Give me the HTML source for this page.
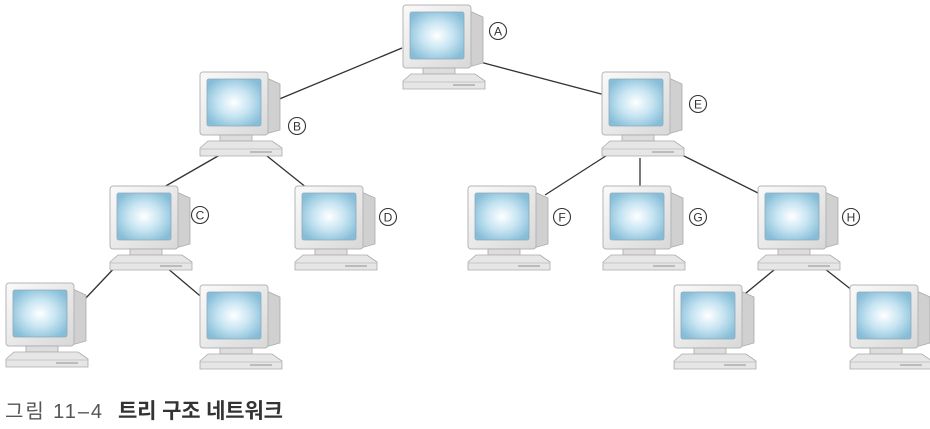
<!DOCTYPE html>
<html><head><meta charset="utf-8"><style>
body{margin:0;background:#fff;width:930px;height:424px;overflow:hidden}
text{font-family:"Liberation Sans","Noto Sans CJK KR",sans-serif}
</style></head><body>
<svg width="930" height="424" viewBox="0 0 930 424" xmlns="http://www.w3.org/2000/svg">
<defs>
<radialGradient id="scr" cx="0.5" cy="0.5" r="0.6">
<stop offset="0" stop-color="#ffffff"/><stop offset="0.5" stop-color="#c6e4f2"/><stop offset="1" stop-color="#86bdd8"/>
</radialGradient>
<linearGradient id="frm" x1="0" y1="0" x2="1" y2="1">
<stop offset="0" stop-color="#fafafa"/><stop offset="1" stop-color="#d8d8d8"/>
</linearGradient>
<g id="pc">
<polygon points="60,3 80,12 80,58 62,63" fill="#d0d0d0" stroke="#aaa" stroke-width="0.8"/>
<rect x="0" y="0" width="68" height="63" rx="3" fill="url(#frm)" stroke="#b5b5b5" stroke-width="1"/>
<rect x="7" y="7" width="54" height="47" rx="2" fill="url(#scr)" stroke="#8fa9b8" stroke-width="0.8"/>
<rect x="20" y="63" width="32" height="6" fill="#ddd" stroke="#aaa" stroke-width="0.8"/>
<polygon points="8,69 72,69 82,76 82,84 0,84 0,76" fill="#e6e6e6" stroke="#aaa" stroke-width="0.8"/>
<line x1="0" y1="77" x2="82" y2="77" stroke="#bbb" stroke-width="0.8"/>
<rect x="50" y="79" width="22" height="2" fill="#bbb"/>
</g>
</defs>
<g stroke="#333" stroke-width="1.3">
<line x1="402" y1="48" x2="277" y2="100"/>
<line x1="480" y1="62" x2="605" y2="95"/>
<line x1="225" y1="152" x2="150" y2="195"/>
<line x1="262" y1="152" x2="312" y2="192"/>
<line x1="120" y1="262" x2="84" y2="300"/>
<line x1="160" y1="262" x2="205" y2="300"/>
<line x1="612" y1="152" x2="545" y2="195"/>
<line x1="640" y1="158" x2="640" y2="188"/>
<line x1="668" y1="148" x2="772" y2="200"/>
<line x1="780" y1="265" x2="740" y2="298"/>
<line x1="820" y1="265" x2="862" y2="298"/>
</g>
<use href="#pc" x="403" y="5"/>
<use href="#pc" x="200" y="72"/>
<use href="#pc" x="602" y="72"/>
<use href="#pc" x="110" y="186"/>
<use href="#pc" x="295" y="186"/>
<use href="#pc" x="468" y="186"/>
<use href="#pc" x="603" y="186"/>
<use href="#pc" x="758" y="186"/>
<use href="#pc" x="6" y="283"/>
<use href="#pc" x="200" y="285"/>
<use href="#pc" x="674" y="285"/>
<use href="#pc" x="850" y="285"/>
<g fill="#fff" stroke="#333" stroke-width="1.1">
<circle cx="498" cy="31" r="8.5"/><circle cx="297" cy="126" r="8.5"/><circle cx="698" cy="104" r="8.5"/>
<circle cx="200" cy="215" r="8.5"/><circle cx="388" cy="217" r="8.5"/><circle cx="562" cy="217" r="8.5"/>
<circle cx="698" cy="217" r="8.5"/><circle cx="851" cy="217" r="8.5"/>
</g>
<g font-size="12" fill="#333" text-anchor="middle">
<text x="498" y="35.5">A</text><text x="297" y="130.5">B</text><text x="698" y="108.5">E</text>
<text x="200" y="219.5">C</text><text x="388" y="221.5">D</text><text x="562" y="221.5">F</text>
<text x="698" y="221.5">G</text><text x="851" y="221.5">H</text>
</g>
<text x="5" y="418" font-size="20" fill="#555" textLength="97" lengthAdjust="spacing">그림 11–4</text>
<text x="118" y="418" font-size="21" font-weight="bold" fill="#333" textLength="165" lengthAdjust="spacing">트리 구조 네트워크</text>
</svg>
</body></html>
